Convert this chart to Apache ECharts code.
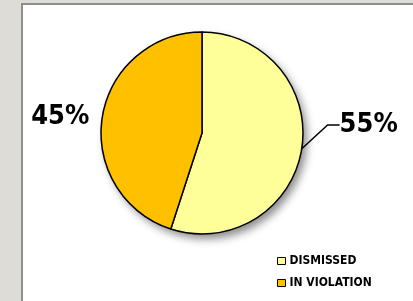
<!DOCTYPE html>
<html lang="en">
<head>
    <meta charset="UTF-8">
    <title>Dismissed vs in violation</title>
    <script src="https://cdn.jsdelivr.net/npm/echarts@6/dist/echarts.min.js"></script>
    <style>
        html, body { margin: 0; padding: 0; background: #dddcd7; }
        #frame {
            position: absolute; left: 21px; top: 3px;
            width: 392px; height: 298px;
            border-left: 2px solid #8e8e8e; border-top: 2px solid #8e8e8e;
            background: #ffffff;
        }
        #main { width: 392px; height: 298px; }
    </style>
</head>
<body>
    <div id="frame"><div id="main"></div></div>

    <script>
        const categories = ["DISMISSED", "IN VIOLATION"]
        const values = [55, 45]
        const colors = ["#ffff99", "#ffc000"]

        const labelFont = "'DejaVu Sans Condensed', 'DejaVu Sans', sans-serif"

        const chart = echarts.init(document.getElementById("main"))

        const data = categories.map((name, i) => ({
            name: name,
            value: values[i],
            itemStyle: { color: colors[i] },
            labelLine: i === 0
                ? { show: true, length: 14, length2: 12 }
                : { show: false, length: 2, length2: 6 }
        }))

        const option = {
            animation: false,
            legend: {
                orient: "vertical",
                left: 249,
                top: 245,
                itemWidth: 8,
                itemHeight: 7,
                itemGap: 10,
                icon: "rect",
                itemStyle: { borderColor: "#000", borderWidth: 1 },
                textStyle: {
                    fontFamily: labelFont,
                    fontWeight: "bold",
                    fontSize: 12,
                    color: "#000",
                    padding: [0, 0, 0, -1]
                },
                data: categories
            },
            series: [
                {
                    // shadow disc behind the slices
                    type: "pie",
                    silent: true,
                    z: 1,
                    center: [179, 128],
                    radius: 101,
                    label: { show: false },
                    labelLine: { show: false },
                    itemStyle: {
                        color: "#fff",
                        shadowBlur: 9,
                        shadowOffsetX: 4,
                        shadowOffsetY: 5,
                        shadowColor: "rgba(0,0,0,0.45)"
                    },
                    data: [{ name: "", value: values.reduce((a, b) => a + b, 0) }]
                },
                {
                    type: "pie",
                    z: 2,
                    center: [179, 128],
                    radius: 101,
                    startAngle: 90,
                    clockwise: true,
                    avoidLabelOverlap: false,
                    itemStyle: { borderColor: "#000", borderWidth: 1.5 },
                    label: {
                        show: true,
                        position: "outside",
                        formatter: "{c}%",
                        fontFamily: labelFont,
                        fontWeight: "bold",
                        fontSize: 27,
                        color: "#000"
                    },
                    labelLine: { lineStyle: { color: "#000", width: 1.5 } },
                    labelLayout: function (p) {
                        if (p.dataIndex !== 0) return {}
                        // lift the right label up like the original
                        return {
                            x: p.labelRect.x + 7,
                            y: p.labelRect.y + p.labelRect.height / 2 - 26
                        }
                    },
                    data: data
                }
            ]
        }
        chart.setOption(option)
    </script>
</body>
</html>
